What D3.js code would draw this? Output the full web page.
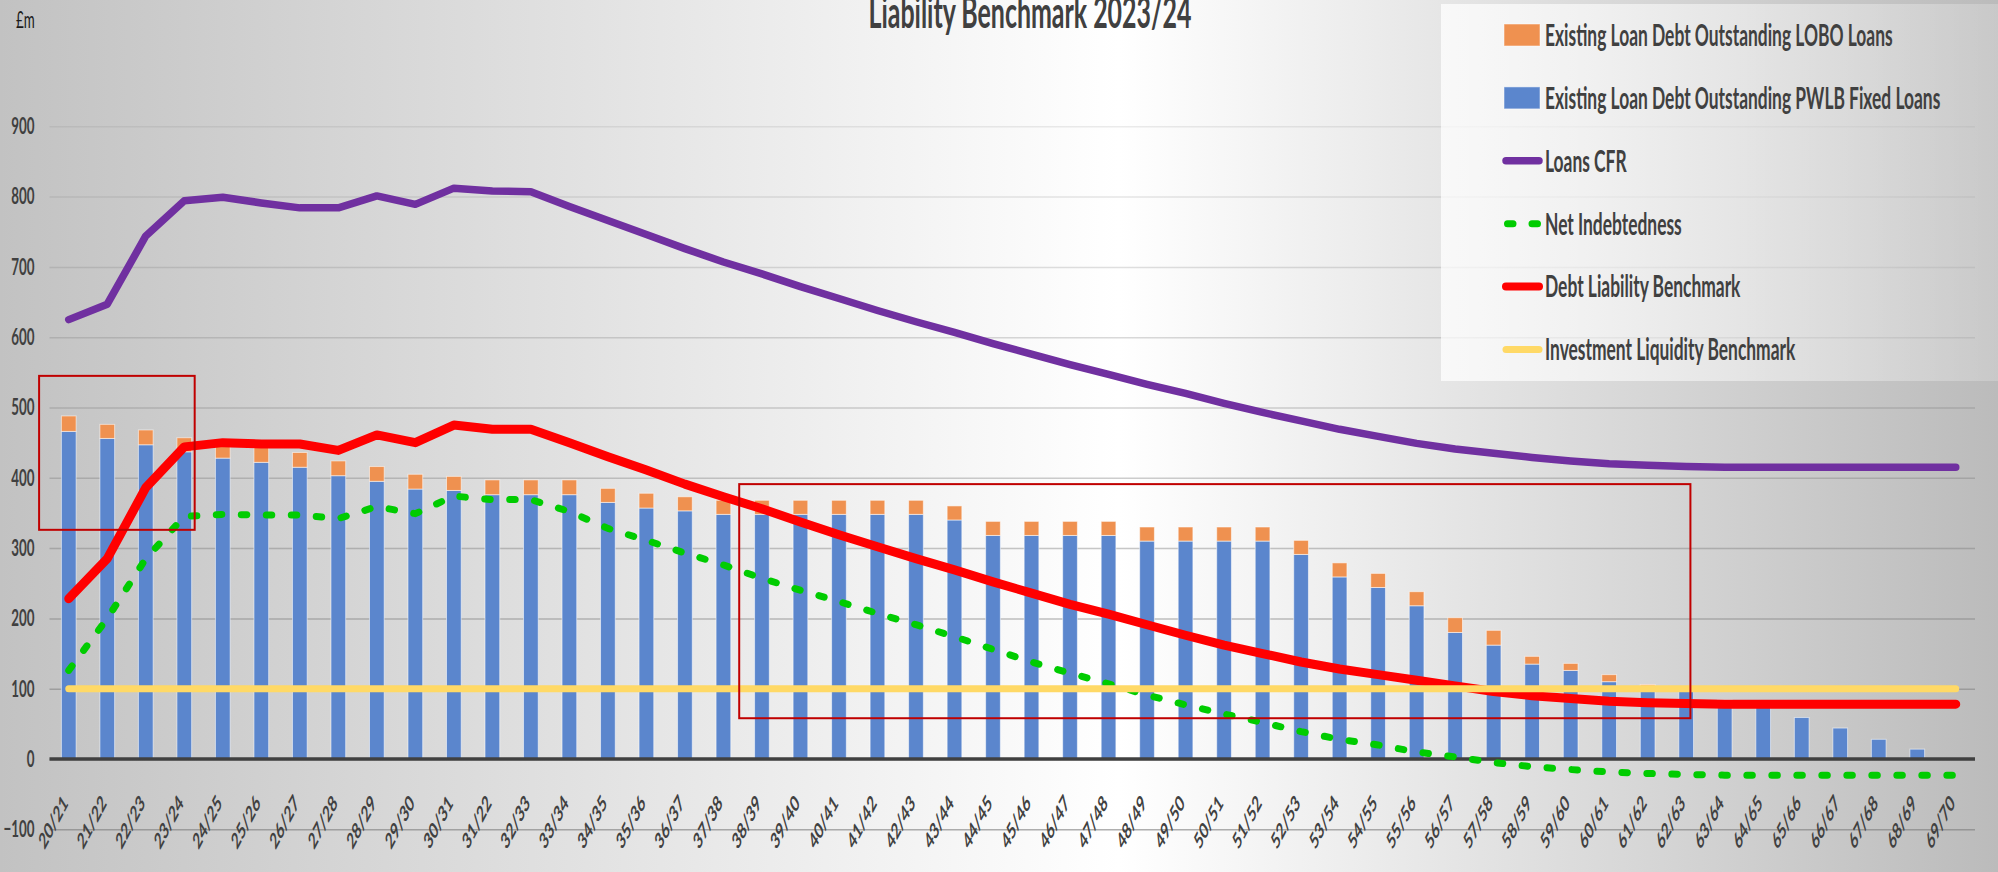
<!DOCTYPE html>
<html>
<head>
<meta charset="utf-8">
<script src="https://cdn.jsdelivr.net/npm/d3@7"></script>
<style>
  body { margin: 0; overflow: hidden; background: #fff; }
  text { font-family: Lato, "Open Sans", "DejaVu Sans", sans-serif; }
</style>
</head>
<body>
<svg id="chart"></svg>
<script>
// ---- data ----
const years = ["20/21","21/22","22/23","23/24","24/25","25/26","26/27","27/28","28/29","29/30",
  "30/31","31/22","32/33","33/34","34/35","35/36","36/37","37/38","38/39","39/40",
  "40/41","41/42","42/43","43/44","44/45","45/46","46/47","47/48","48/49","49/50",
  "50/51","51/52","52/53","53/54","54/55","55/56","56/57","57/58","58/59","59/60",
  "60/61","61/62","62/63","63/64","64/65","65/66","66/67","67/68","68/69","69/70"];

const pwlbLoans = [466,456,447,437,428,422,415,403,395,384,
  382,376,376,376,365,357,353,348,348,348,
  348,348,348,340,318,318,318,318,310,310,
  310,310,291,259,244,218,180,162,135,126,
  110,104,99,84,80,59,44,28,14,0];

const loboLoans = [22,20,21,20,21,21,21,21,21,21,
  20,21,21,21,20,21,20,20,20,20,
  20,20,20,20,20,20,20,20,20,20,
  20,20,20,20,20,20,21,21,11,10,
  10,2,0,0,0,0,0,0,0,0];

const loansCFR = [625,647,744,794,799,791,784,784,801,789,
  812,808,807,786,766,746,726,707,690,672,
  655,638,622,607,591,576,561,547,533,520,
  506,493,481,469,459,449,441,435,429,424,
  420,418,416,415,415,415,415,415,415,415];

const netIndebtedness = [126,200,285,345,348,347,347,342,359,349,
  374,369,369,352,328,311,293,276,257,240,
  224,207,191,174,156,138,122,107,91,77,
  64,52,39,28,20,10,3,-5,-11,-15,
  -18.5,-20.5,-22,-23,-23,-23,-23,-23,-23,-23];

const debtLiability = [228,285,386,444,450,448,448,439,461,450,
  475,469,469,450,430,411,391,373,356,337,
  319,302,285,269,252,236,220,206,191,176,
  162,150,138,128,120,112,104,96,90,86,
  82,80,79,78,78,78,78,78,78,78];

const liquidityBenchmark = [100,100,100,100,100,100,100,100,100,100,
  100,100,100,100,100,100,100,100,100,100,
  100,100,100,100,100,100,100,100,100,100,
  100,100,100,100,100,100,100,100,100,100,
  100,100,100,100,100,100,100,100,100,100];

const yTicks = [-100,0,100,200,300,400,500,600,700,800,900];

const title = "Liability Benchmark 2023/24";
const unitLabel = "£m";

// highlighted areas: fractional category index span and value span
const highlightFrom = [-0.77, 17.41];
const highlightTo   = [3.27, 42.11];
const highlightLow  = [326, 58];
const highlightHigh = [545, 391];

// ---- layout ----
const W = 1998, H = 872;
const SX = 0.58;            // the reference text is horizontally squeezed
const left = 49.5, right = 1975;
const ink = "#404040";

const svg = d3.select("#chart").attr("width", W).attr("height", H);
const defs = svg.append("defs");

const bg = defs.append("linearGradient").attr("id", "bg").attr("x1", "0").attr("x2", "1").attr("y1", "0").attr("y2", "0");
bg.append("stop").attr("offset", "0").attr("stop-color", "#c2c2c2");
bg.append("stop").attr("offset", "0.56").attr("stop-color", "#ffffff");
bg.append("stop").attr("offset", "1").attr("stop-color", "#bbbbbb");

const lg = defs.append("linearGradient").attr("id", "legbg").attr("x1", "0").attr("x2", "1").attr("y1", "0").attr("y2", "0");
lg.append("stop").attr("offset", "0").attr("stop-color", "#ffffff").attr("stop-opacity", 0.75);
lg.append("stop").attr("offset", "1").attr("stop-color", "#ffffff").attr("stop-opacity", 0.2);

svg.append("rect").attr("width", W).attr("height", H).attr("fill", "url(#bg)");

const x = d3.scaleBand().domain(years).range([left, right]).paddingInner(0.618).paddingOuter(0.309);
const y = d3.scaleLinear().domain([-100, 900]).range([829.3, 126.3]);
const cx = d => x(d) + x.bandwidth() / 2;
const idxX = d3.scaleLinear().domain([0, years.length - 1]).range([cx(years[0]), cx(years[years.length - 1])]);

// gridlines + y labels
const yAxis = svg.append("g").attr("transform", `translate(${left},0)`)
  .call(d3.axisLeft(y).tickValues(yTicks).tickSize(-(right - left)).tickPadding(15));
yAxis.select(".domain").remove();
yAxis.selectAll(".tick line")
  .attr("stroke", "#7a7a7a").attr("stroke-width", 1.5)
  .attr("stroke-opacity", d => 0.15 + 0.45 * (900 - d) / 1000);
yAxis.selectAll(".tick text")
  .attr("x", -15 / SX)
  .attr("transform", `scale(${SX},1)`)
  .attr("fill", ink).attr("font-size", 23).attr("font-weight", 700);

// legend panel behind the series
svg.append("rect").attr("x", 1441).attr("y", 4).attr("width", W - 1441).attr("height", 377)
  .attr("fill", "url(#legbg)");

// stacked bars
const rows = years.map((yr, i) => ({ year: yr, pwlb: pwlbLoans[i], lobo: loboLoans[i] }));
const stacked = d3.stack().keys(["pwlb", "lobo"])(rows);
const barColor = { pwlb: "#5b86cd", lobo: "#ef9150" };

svg.append("g").selectAll("g").data(stacked).join("g")
  .attr("fill", d => barColor[d.key])
  .selectAll("rect").data(d => d).join("rect")
  .attr("x", d => x(d.data.year))
  .attr("y", d => y(d[1]))
  .attr("width", x.bandwidth())
  .attr("height", d => Math.max(0, y(d[0]) - y(d[1])))
  .attr("stroke", "#ffffff").attr("stroke-opacity", 0.55).attr("stroke-width", 1);

// zero axis line
svg.append("line").attr("x1", left).attr("x2", right).attr("y1", y(0)).attr("y2", y(0))
  .attr("stroke", ink).attr("stroke-width", 3.7);

// x labels
const xAxis = svg.append("g").attr("transform", "translate(0,804)")
  .call(d3.axisBottom(x).tickSize(0));
xAxis.select(".domain").remove();
xAxis.selectAll(".tick text")
  .attr("x", 0).attr("y", 0).attr("dy", 0)
  .attr("text-anchor", "end")
  .attr("transform", `scale(${SX},1) rotate(-48)`)
  .attr("fill", ink).attr("font-size", 22.5).attr("font-weight", 700);

// lines
const line = d3.line().x((d, i) => cx(years[i])).y(d => y(d));
const series = [
  { values: loansCFR, color: "#7030a0", width: 7.5, dash: null },
  { values: netIndebtedness, color: "#00cc00", width: 7, dash: "5.5,19.5" },
  { values: debtLiability, color: "#ff0000", width: 9, dash: null },
  { values: liquidityBenchmark, color: "#ffd966", width: 7, dash: null }
];
svg.append("g").selectAll("path").data(series).join("path")
  .attr("d", d => line(d.values))
  .attr("fill", "none")
  .attr("stroke", d => d.color)
  .attr("stroke-width", d => d.width)
  .attr("stroke-linecap", "round").attr("stroke-linejoin", "round")
  .attr("stroke-dasharray", d => d.dash);

// highlight boxes
svg.append("g").selectAll("rect").data(highlightFrom).join("rect")
  .attr("x", (d, i) => idxX(d))
  .attr("y", (d, i) => y(highlightHigh[i]))
  .attr("width", (d, i) => idxX(highlightTo[i]) - idxX(d))
  .attr("height", (d, i) => y(highlightLow[i]) - y(highlightHigh[i]))
  .attr("fill", "none").attr("stroke", "#c00000").attr("stroke-width", 2);

// title (cut at the top edge, as in the reference) and unit
svg.append("text").attr("transform", `translate(1030,28) scale(${SX},1)`)
  .attr("text-anchor", "middle").attr("font-size", 43).attr("font-weight", 700)
  .attr("fill", ink).text(title);
svg.append("text").attr("transform", `translate(16,28) scale(${SX},1)`)
  .attr("font-size", 23).attr("fill", "#1a1a1a").text(unitLabel);

// legend
const legendItems = [
  { name: "Existing Loan Debt Outstanding LOBO Loans", type: "box", color: "#ef9150" },
  { name: "Existing Loan Debt Outstanding PWLB Fixed Loans", type: "box", color: "#5b86cd" },
  { name: "Loans CFR", type: "line", color: "#7030a0", width: 7.5 },
  { name: "Net Indebtedness", type: "dash", color: "#00cc00", width: 7 },
  { name: "Debt Liability Benchmark", type: "line", color: "#ff0000", width: 8 },
  { name: "Investment Liquidity Benchmark", type: "line", color: "#ffd966", width: 7 }
];
const leg = svg.append("g").selectAll("g").data(legendItems).join("g")
  .attr("transform", (d, i) => `translate(1504,${35 + i * 62.9})`);
leg.filter(d => d.type === "box").append("rect")
  .attr("x", 0).attr("y", -11).attr("width", 36).attr("height", 22)
  .attr("fill", d => d.color).attr("stroke", "#ffffff").attr("stroke-opacity", 0.5);
leg.filter(d => d.type !== "box").append("line")
  .attr("x1", d => d.type === "dash" ? 3.5 : 2).attr("x2", d => d.type === "dash" ? 33.5 : 35)
  .attr("y1", 0).attr("y2", 0)
  .attr("stroke", d => d.color).attr("stroke-width", d => d.width)
  .attr("stroke-linecap", "round")
  .attr("stroke-dasharray", d => d.type === "dash" ? "5.5,19" : null);
leg.append("text")
  .attr("transform", `translate(41,0) scale(${SX},1)`)
  .attr("dy", "0.36em").attr("font-size", 30).attr("font-weight", 700)
  .attr("fill", ink).text(d => d.name);
</script>
</body>
</html>
